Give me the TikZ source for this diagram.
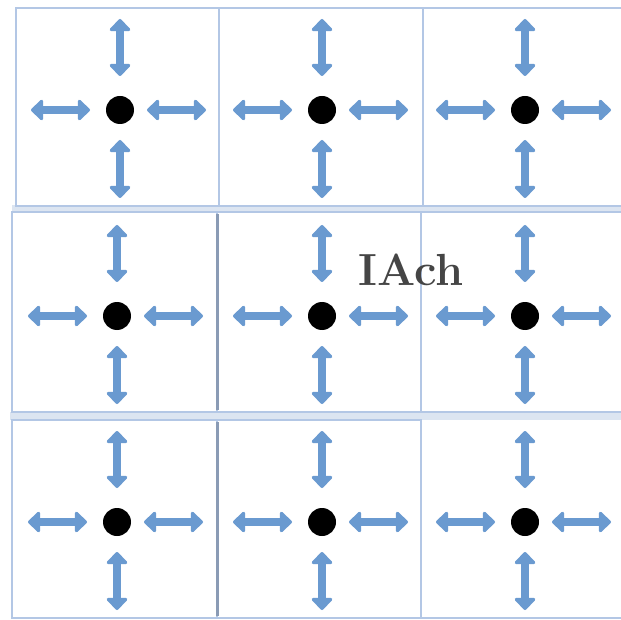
\documentclass[tikz,border=0pt]{standalone}
\usetikzlibrary{arrows.meta}
\definecolor{gridblue}{HTML}{B3C7E5}
\definecolor{bandblue}{HTML}{DCE5F1}
\definecolor{arrblue}{HTML}{6A9AD0}
\definecolor{darkline}{HTML}{8A9BB5}
\definecolor{txtgray}{HTML}{454545}
\tikzset{
  gridline/.style={draw=gridblue, line width=2.5pt},
  darkgrid/.style={draw=darkline, line width=3pt},
  band/.style={fill=bandblue, draw=none},
  dot/.style={circle, fill=black, minimum size=28pt, inner sep=0pt},
  dblarrow/.style={draw=arrblue, line width=8.5pt,
    {Triangle[width=24pt,length=13pt,round]}-{Triangle[width=24pt,length=13pt,round]}},
}
\begin{document}
\begin{tikzpicture}[x=1pt,y=-1pt]
\useasboundingbox (0,0) rectangle (621,620);
\fill[white] (0,0) rectangle (621,620);
% bands between rows
\fill[band] (12,205) rectangle (621,212);
\fill[band] (10,412) rectangle (621,420);
% row 1
\draw[gridline] (16,8) rectangle (219,206);
\draw[gridline] (219,8) rectangle (423,206);
\draw[gridline] (423,8) -- (621,8);
\draw[gridline] (423,206) -- (621,206);
% row 2
\draw[gridline] (12,212) rectangle (217,412);
\draw[gridline] (217,212) rectangle (421,412);
\draw[gridline] (421,212) -- (621,212);
\draw[gridline] (421,412) -- (621,412);
% row 3
\draw[gridline] (12,420) rectangle (217,618);
\draw[gridline] (217,420) rectangle (421,618);
\draw[gridline] (421,618) -- (621,618);
\draw[darkgrid] (217,214) -- (217,410);
\draw[darkgrid] (217,422) -- (217,616);
% dots and arrows
\foreach \r/\y/\xa in {1/110/120,2/316/117,3/522/117}{
  \foreach \c/\x in {1/\xa,2/322,3/525}{
    \node[dot] (d\r\c) at (\x,\y) {};
    \coordinate (ua\r\c) at (\x,\y-91);
    \coordinate (ub\r\c) at (\x,\y-34);
    \coordinate (ba\r\c) at (\x,\y+30);
    \coordinate (bb\r\c) at (\x,\y+88);
    \coordinate (la\r\c) at (\x-89,\y);
    \coordinate (lb\r\c) at (\x-30,\y);
    \coordinate (ra\r\c) at (\x+27,\y);
    \coordinate (rb\r\c) at (\x+86,\y);
    \draw[dblarrow] (ua\r\c) -- (ub\r\c);
    \draw[dblarrow] (ba\r\c) -- (bb\r\c);
    \draw[dblarrow] (la\r\c) -- (lb\r\c);
    \draw[dblarrow] (ra\r\c) -- (rb\r\c);
  }
}
\node[anchor=base, text=txtgray, font=\fontsize{45}{48}\selectfont\bfseries, inner sep=0pt] (lbl) at (411,286) {IAch};
\end{tikzpicture}
\end{document}
